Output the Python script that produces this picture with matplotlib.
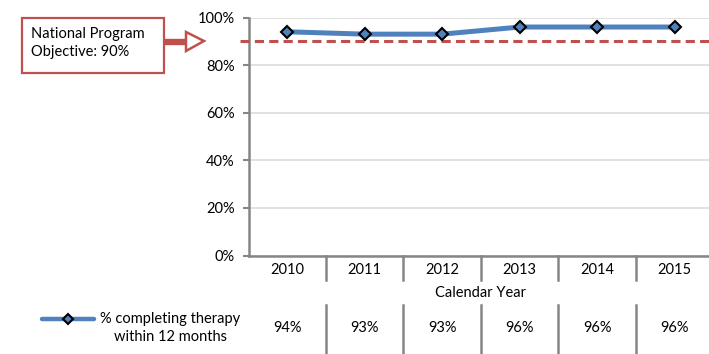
import matplotlib
matplotlib.use("Agg")
import matplotlib.pyplot as plt
from matplotlib.transforms import blended_transform_factory
from matplotlib.patches import Rectangle, Polygon
from matplotlib.lines import Line2D

plt.rcParams['font.family'] = ['Lato', 'DejaVu Sans']

years = ["2010", "2011", "2012", "2013", "2014", "2015"]
values = [94, 93, 93, 96, 96, 96]
value_labels = ["94%", "93%", "93%", "96%", "96%", "96%"]
yticks = [0, 20, 40, 60, 80, 100]
ytick_labels = ["0%", "20%", "40%", "60%", "80%", "100%"]
objective = 90
series_name = "% completing therapy\nwithin 12 months"
x_title = "Calendar Year"
note_text = "National Program\nObjective: 90%"

W, H = 709, 354
BLUE = "#4F81BD"
RED = "#C0504D"
GRAY = "#868686"
FS = 10.5

fig = plt.figure(figsize=(W / 100, H / 100), dpi=100)
# overlay axes in pixel coordinates
ov = fig.add_axes([0, 0, 1, 1])
ov.set_xlim(0, W)
ov.set_ylim(H, 0)
ov.axis("off")

left, right, top, bottom = 248.5, 713.5, 17.5, 255.5
ax = fig.add_axes([left / W, (H - bottom) / H, (right - left) / W, (bottom - top) / H])
ax.set_zorder(2)
ax.patch.set_alpha(0)

x = list(range(len(years)))
ax.set_xlim(-0.5, len(years) - 0.5)
ax.set_ylim(0, 100)
ax.set_yticks(yticks)
ax.set_yticklabels(ytick_labels, fontsize=FS)
ax.set_xticks([])
for s in ["top", "right"]:
    ax.spines[s].set_visible(False)
for s in ["left", "bottom"]:
    ax.spines[s].set_color(GRAY)
    ax.spines[s].set_linewidth(1.8)
ax.tick_params(axis="y", length=4, width=1.5, color=GRAY, pad=6)
ax.yaxis.grid(True, color="#D9D9D9", linewidth=1.1)
ax.set_axisbelow(True)

ax.plot(x, values, color=BLUE, linewidth=3.6, marker="D", markersize=6.5,
        markerfacecolor=BLUE, markeredgecolor="black", markeredgewidth=1.5,
        solid_capstyle="round", zorder=4, clip_on=False)
ext = 9 / 77.5
ax.plot([-0.5 - ext, len(years) - 0.5], [objective, objective], color=RED,
        linewidth=2.2, dashes=(3, 1.7), zorder=3, clip_on=False)

# table below the chart
tr = blended_transform_factory(ax.transData, ov.transData)
for i, (yr, lab) in enumerate(zip(years, value_labels)):
    ax.text(i, 270, yr, transform=tr, ha="center", va="center", fontsize=FS)
    ax.text(i, 328, lab, transform=tr, ha="center", va="center", fontsize=FS)
for i in range(len(years) - 1):
    b = i + 0.5
    ax.add_line(Line2D([b, b], [256, 280], transform=tr, color=GRAY, linewidth=1.8, clip_on=False))
    ax.add_line(Line2D([b, b], [305, 353], transform=tr, color=GRAY, linewidth=1.8, clip_on=False))
ax.text((len(years) - 1) / 2, 293, x_title, transform=tr, ha="center", va="center", fontsize=FS)

# legend
ov.plot([42, 94], [319, 319], color=BLUE, linewidth=3.2, solid_capstyle="round")
ov.plot([68], [319], marker="D", markersize=5.5, markerfacecolor=BLUE,
        markeredgecolor="black", markeredgewidth=1.5)
ov.text(170, 328, series_name, ha="center", va="center", fontsize=FS, linespacing=1.3)

# annotation box + arrow
ov.add_patch(Rectangle((22, 18), 142, 55, facecolor="white", edgecolor=RED, linewidth=1.6))
ov.text(31, 43, note_text, ha="left", va="center", fontsize=FS, linespacing=1.3)
ov.add_patch(Rectangle((164, 38.5), 22, 5, facecolor=RED, edgecolor=RED, linewidth=1.0))
head = [(186, 32), (204, 41), (186, 51)]
ov.add_patch(Polygon(head, closed=True, facecolor="white", edgecolor=RED, linewidth=1.8, joinstyle="miter"))

fig.savefig("out.png", dpi=100)
